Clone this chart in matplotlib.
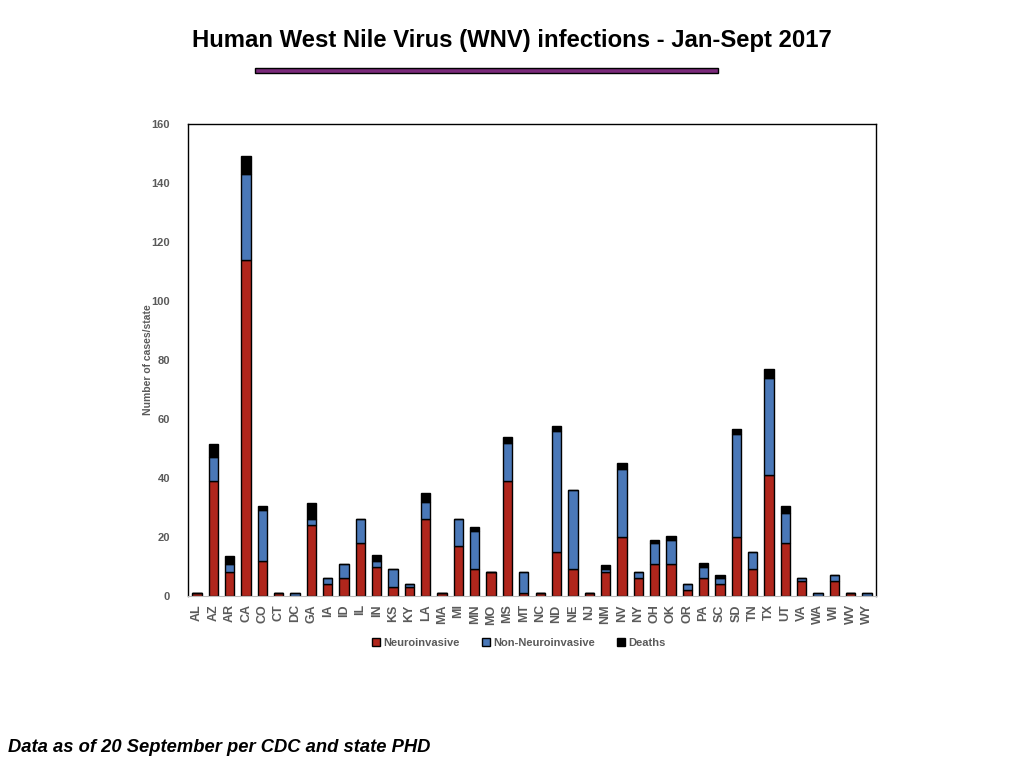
import numpy as np
import matplotlib
import matplotlib.pyplot as plt
from matplotlib.patches import Rectangle
matplotlib.use('Agg')

plt.rcParams['font.family'] = ['Liberation Sans', 'DejaVu Sans']

states = ['AL', 'AZ', 'AR', 'CA', 'CO', 'CT', 'DC', 'GA', 'IA', 'ID', 'IL',
          'IN', 'KS', 'KY', 'LA', 'MA', 'MI', 'MN', 'MO', 'MS', 'MT', 'NC',
          'ND', 'NE', 'NJ', 'NM', 'NV', 'NY', 'OH', 'OK', 'OR', 'PA', 'SC',
          'SD', 'TN', 'TX', 'UT', 'VA', 'WA', 'WI', 'WV', 'WY']
neuro = [1, 39, 8, 114, 12, 1, 0, 24, 4, 6, 18,
         10, 3, 3, 26, 1, 17, 9, 8, 39, 1, 1,
         15, 9, 1, 8, 20, 6, 11, 11, 2, 6, 4,
         20, 9, 41, 18, 5, 0, 5, 1, 0]
non_neuro = [0, 8, 3, 29, 17, 0, 1, 2, 2, 5, 8,
             2, 6, 1, 6, 0, 9, 13, 0, 13, 7, 0,
             41, 27, 0, 1, 23, 2, 7, 8, 2, 4, 2,
             35, 6, 33, 10, 1, 1, 2, 0, 1]
deaths = [0, 4.5, 2.5, 6, 1.5, 0, 0, 5.5, 0, 0, 0,
          2, 0, 0, 3, 0, 0, 1.5, 0, 2, 0, 0,
          1.5, 0, 0, 1.5, 2, 0, 1, 1.2, 0, 1.2, 1.2,
          1.5, 0, 3, 2.5, 0, 0, 0, 0, 0]

red = '#b0261c'
blue = '#4a78b8'
grey = '#5a5a5a'

fig = plt.figure(figsize=(10.24, 7.68), dpi=100)
ax = fig.add_axes([188 / 1024, 1 - 596 / 768, 688 / 1024, 472 / 768])

x = np.arange(len(states))
neuro = np.array(neuro, dtype=float)
non_neuro = np.array(non_neuro, dtype=float)
deaths = np.array(deaths, dtype=float)
w = 0.57

ax.bar(x, neuro, w, color=red, edgecolor='black', linewidth=1,
       label='Neuroinvasive')
ax.bar(x, non_neuro, w, bottom=neuro, color=blue, edgecolor='black',
       linewidth=1, label='Non-Neuroinvasive')
ax.bar(x, deaths, w, bottom=neuro + non_neuro, color='black',
       edgecolor='black', linewidth=1, label='Deaths')

ax.set_xlim(-0.55, len(states) - 0.45)
ax.set_ylim(0, 160)
ax.set_yticks(range(0, 161, 20))
ax.set_xticks(x)
ax.set_xticklabels(states, rotation=90)
ax.tick_params(length=0, colors=grey, labelsize=9)
ax.tick_params(axis='y', labelsize=8, pad=13)
ax.tick_params(axis='x', pad=6)
for lab in ax.get_xticklabels() + ax.get_yticklabels():
    lab.set_fontweight('bold')
for s in ['left', 'top', 'right']:
    ax.spines[s].set_color('black')
    ax.spines[s].set_linewidth(1)
ax.spines['bottom'].set_color('#bbbbbb')

ax.set_ylabel('Number of cases/state', fontsize=7.5, fontweight='bold',
              color=grey)
ax.yaxis.set_label_coords(-0.051, 0.5)

ax.legend(loc='upper center', bbox_to_anchor=(0.481, -0.068), ncol=3,
          frameon=False, handlelength=0.7, handleheight=0.7,
          handletextpad=0.3, columnspacing=2.0, labelcolor=grey,
          prop={'weight': 'bold', 'size': 8})

fig.text(0.5, 1 - 41 / 768, 'Human West Nile Virus (WNV) infections - Jan-Sept 2017',
         ha='center', va='center', fontsize=17.2, fontweight='bold')
fig.patches.append(Rectangle((255 / 1024, 1 - 73 / 768), 463 / 1024, 5 / 768,
                             transform=fig.transFigure, facecolor='#7a2a7a',
                             edgecolor='black', linewidth=1))
fig.text(8 / 1024, 1 - 748 / 768, 'Data as of 20 September per CDC and state PHD',
         ha='left', va='center', fontsize=13.2, fontweight='bold',
         fontstyle='italic')

fig.savefig('out.png', dpi=100)
plt.close(fig)
